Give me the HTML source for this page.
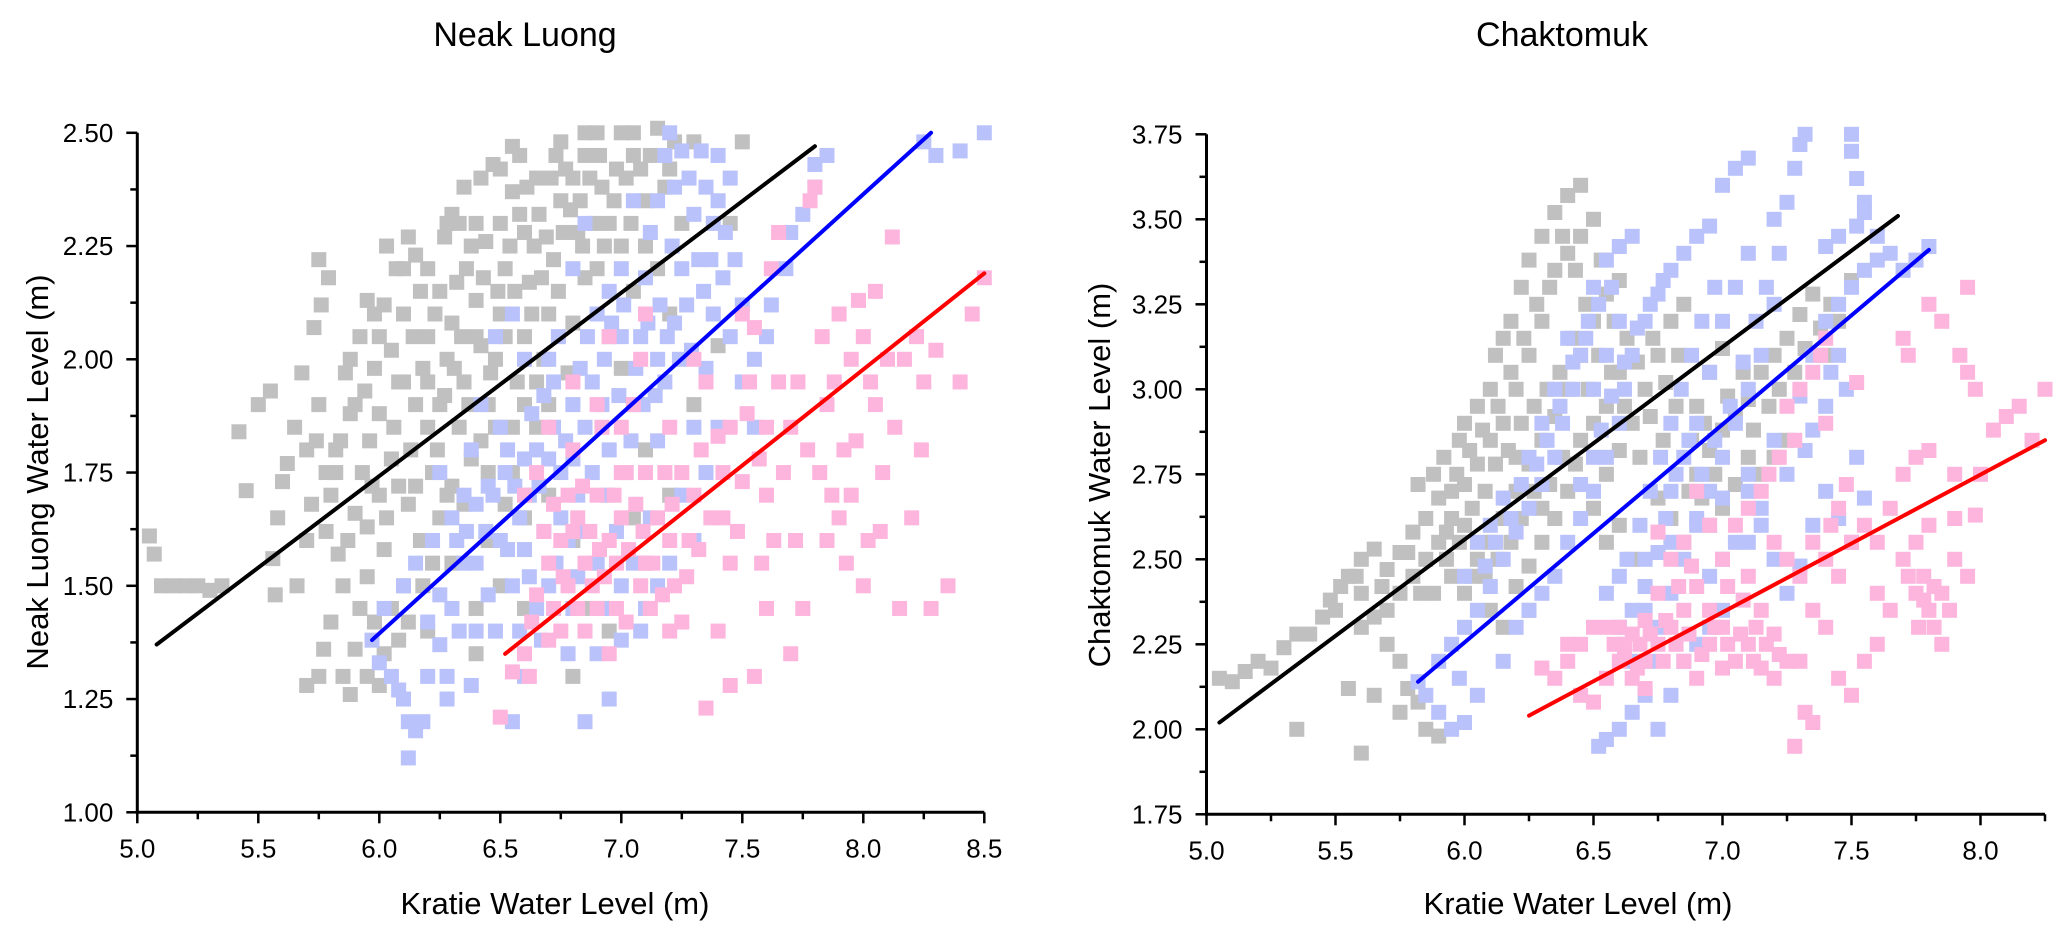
<!DOCTYPE html>
<html><head><meta charset="utf-8">
<style>
html,body{margin:0;padding:0;background:#fff;}
svg{display:block;font-family:"Liberation Sans",Arial,sans-serif;}
</style></head>
<body>
<svg id="fig" width="2067" height="938" viewBox="0 0 2067 938" xmlns="http://www.w3.org/2000/svg">
<rect width="2067" height="938" fill="#fff"/>
<g id="left"></g>
<g id="right"></g>
</svg>
<script>
// ---------- Data: Neak Luong ----------
const nlGray=[[5.05,1.61],[5.07,1.57],[5.1,1.5],[5.15,1.5],[5.2,1.5],[5.25,1.5],[5.3,1.49],[5.35,1.5],[5.45,1.71],[5.42,1.84],[5.5,1.9],[5.55,1.93],[5.6,1.73],[5.62,1.77],[5.58,1.65],[5.56,1.56],[5.57,1.48],[5.65,1.85],[5.7,1.8],[5.75,1.9],[5.68,1.97],[5.73,2.07],[5.76,2.12],[5.79,2.18],[5.75,2.22],[5.8,1.70],[5.7,1.6],[5.72,1.68],[5.78,1.62],[5.83,1.57],[5.66,1.5],[5.7,1.28],[5.75,1.3],[5.77,1.36],[5.8,1.42],[5.85,1.3],[5.88,1.26],[5.9,1.36],[5.92,1.45],[5.95,1.52],[5.85,1.5],[5.87,1.6],[5.9,1.66],[5.93,1.75],[5.96,1.82],[5.9,1.9],[5.86,1.97],[5.92,2.05],[5.98,2.1],[5.95,1.63],[6.0,1.7],[6.02,1.58],[6.05,1.78],[6.0,1.88],[6.08,1.95],[6.05,2.02],[6.1,2.1],[6.07,2.2],[6.12,2.27],[6.03,2.25],[5.95,2.13],[6.15,2.23],[6.15,1.9],[6.18,1.98],[6.2,2.05],[6.2,1.85],[6.22,1.75],[6.12,1.68],[6.17,1.6],[6.1,1.5],[6.05,1.45],[6.02,1.35],[6.08,1.38],[6.25,1.9],[6.28,2.0],[6.3,2.08],[6.32,2.17],[6.27,2.27],[6.3,2.32],[6.35,2.38],[6.38,2.25],[6.4,2.13],[6.42,2.03],[6.35,1.95],[6.33,1.85],[6.38,1.78],[6.3,1.72],[6.25,1.65],[6.45,1.9],[6.48,2.0],[6.5,2.1],[6.52,2.2],[6.5,2.3],[6.55,2.37],[6.58,2.45],[6.47,2.43],[6.6,2.28],[6.62,2.17],[6.6,2.05],[6.57,1.95],[6.65,1.85],[6.68,2.0],[6.7,2.1],[6.72,2.22],[6.75,2.35],[6.73,2.45],[6.8,2.4],[6.82,2.28],[6.85,2.18],[6.8,2.08],[6.78,1.97],[6.9,2.5],[6.92,2.38],[6.95,2.3],[6.98,2.42],[7.0,2.5],[7.05,2.45],[7.1,2.35],[7.15,2.51],[7.2,2.42],[7.0,2.25],[7.05,2.15],[7.1,2.25],[6.9,2.2],[6.95,2.05],[7.0,1.98],[7.15,2.2],[7.25,2.3],[7.3,2.48],[7.5,2.48],[7.2,2.1],[6.55,1.75],[6.6,1.65],[6.7,1.7],[6.45,1.6],[6.5,1.5],[6.4,1.45],[6.6,1.45],[6.8,1.6],[6.88,1.45],[6.9,1.55],[7.05,1.65],[7.1,1.55],[7.1,1.8],[7.3,1.9],[7.35,1.95],[6.3,1.55],[6.2,1.4],[6.4,1.35],[6.35,1.68],[6.8,1.3],[6.95,1.4],[7.2,1.7],[7.4,2.03],[7.45,2.3],[6.25,2.15],[6.4,2.3],[6.65,2.4],[6.85,2.45],[6.1,1.95],[5.98,1.98],[6.02,2.12],
[5.82,1.75],[5.84,1.82],[5.88,1.88],[5.94,1.93],[5.97,1.72],[6.03,1.65],[6.06,1.85],[6.08,1.72],[6.13,1.8],[6.14,2.05],[6.17,2.15],[6.2,1.95],[6.23,2.1],[6.24,1.8],[6.27,1.92],[6.28,1.7],[6.31,1.98],[6.34,2.05],[6.36,2.2],[6.37,1.9],[6.4,2.05],[6.43,2.18],[6.44,2.26],[6.46,1.97],[6.49,2.15],[6.52,2.05],[6.54,2.25],[6.56,2.15],[6.58,2.32],[6.61,2.38],[6.63,2.1],[6.64,2.25],[6.66,2.32],[6.67,2.18],[6.69,2.27],[6.71,2.4],[6.74,2.15],[6.76,2.28],[6.77,2.42],[6.79,2.33],[6.83,2.35],[6.84,2.25],[6.87,2.4],[6.89,2.3],[6.91,2.45],[6.93,2.25],[6.97,2.35],[7.02,2.4],[7.04,2.3],[7.08,2.42],[7.12,2.45],[7.18,2.38],[7.22,2.48],[6.45,1.75],[6.48,1.85],[6.52,1.68],[6.6,1.9],[6.65,1.95],[6.7,1.9],[6.55,1.85],[6.42,1.82],[6.15,1.72],[6.18,1.5],[6.22,1.55],[5.98,1.42],[6.0,1.28],[6.12,1.42],[5.95,1.3],[5.82,1.8],[5.78,1.75],[5.74,1.82],[5.88,2.0],[6.0,2.05],[6.1,2.2],[6.2,2.2],[6.28,2.3],[6.33,2.3],[6.42,2.4],[6.5,2.42],[6.55,2.47],[6.75,2.48],[6.85,2.5],[7.05,2.5]];
const nlBlue=[[5.97,1.38],[6.0,1.33],[6.05,1.3],[6.02,1.45],[6.08,1.27],[6.1,1.25],[6.12,1.2],[6.15,1.18],[6.12,1.12],[6.18,1.2],[6.1,1.5],[6.15,1.55],[6.2,1.42],[6.25,1.37],[6.28,1.3],[6.3,1.45],[6.22,1.6],[6.3,1.65],[6.35,1.55],[6.4,1.4],[6.45,1.48],[6.45,1.72],[6.38,1.8],[6.42,1.9],[6.5,1.85],[6.5,1.6],[6.55,1.5],[6.58,1.4],[6.6,1.58],[6.62,1.7],[6.65,1.8],[6.68,1.92],[6.7,2.0],[6.72,1.85],[6.75,1.75],[6.78,1.6],[6.8,1.45],[6.82,1.7],[6.85,1.85],[6.88,1.95],[6.9,2.1],[6.93,2.0],[6.95,1.8],[6.98,1.62],[7.0,1.5],[7.02,1.75],[7.05,1.9],[7.08,2.05],[7.1,2.18],[7.12,2.28],[7.15,2.35],[7.18,2.45],[7.2,2.5],[7.22,2.38],[7.25,2.46],[7.28,2.4],[7.3,2.32],[7.33,2.46],[7.35,2.38],[7.38,2.3],[7.4,2.45],[7.45,2.4],[7.25,2.2],[7.22,2.08],[7.18,1.95],[7.15,1.82],[7.12,1.65],[7.25,1.7],[7.3,1.85],[7.35,1.98],[7.38,2.1],[7.42,2.18],[7.45,2.05],[7.5,1.95],[7.5,2.12],[7.55,2.0],[7.6,2.05],[7.62,2.12],[7.3,1.6],[7.2,1.55],[7.1,1.45],[6.9,1.35],[6.95,1.25],[6.85,1.2],[6.7,1.5],[6.6,1.3],[6.55,1.2],[7.7,2.28],[7.75,2.32],[7.8,2.38],[7.68,2.2],[7.85,2.45],[8.25,2.48],[8.4,2.46],[8.5,2.5],[8.3,2.45],[7.8,2.43],[6.25,1.75],[6.35,1.7],[6.48,2.05],[6.55,2.1],[6.6,2.0],[6.8,2.2],[6.85,2.3],[7.0,2.2],[7.05,2.35],[6.95,2.15],[6.75,1.65],[6.65,1.45],[6.4,1.55],[6.58,1.65],[7.0,2.05],[7.15,2.0],[7.4,1.85],[7.35,1.75],[7.55,1.85],[6.9,1.55],[7.08,1.4],[6.52,1.75],[6.7,1.78],[6.8,1.9],
[6.32,1.6],[6.36,1.62],[6.4,1.68],[6.44,1.62],[6.47,1.7],[6.53,1.8],[6.56,1.72],[6.6,1.78],[6.63,1.88],[6.66,1.72],[6.68,1.62],[6.72,1.95],[6.74,2.05],[6.77,1.82],[6.8,1.78],[6.83,1.98],[6.86,2.05],[6.88,1.75],[6.92,1.9],[6.94,1.7],[6.96,2.08],[6.99,1.92],[7.01,2.12],[7.04,1.82],[7.06,1.98],[7.09,1.9],[7.11,2.08],[7.14,1.92],[7.16,2.12],[7.19,2.05],[7.21,2.25],[7.24,2.0],[7.27,2.12],[7.29,2.02],[7.32,2.22],[7.34,2.15],[7.37,2.22],[7.4,2.35],[7.43,2.28],[7.47,2.22],[6.25,1.48],[6.33,1.4],[6.48,1.4],[6.53,1.58],[6.62,1.52],[6.67,1.38],[6.73,1.55],[6.78,1.35],[6.82,1.52],[6.86,1.62],[6.92,1.45],[7.0,1.38],[7.05,1.55],[7.15,1.5],[6.28,1.25],[6.38,1.28],[6.2,1.3]];
const nlPink=[[6.5,1.21],[6.55,1.31],[6.6,1.35],[6.62,1.3],[6.65,1.48],[6.7,1.55],[6.72,1.45],[6.75,1.6],[6.78,1.7],[6.8,1.8],[6.82,1.65],[6.85,1.55],[6.88,1.5],[6.9,1.7],[6.92,1.85],[6.95,1.6],[6.98,1.45],[7.0,1.65],[7.02,1.75],[7.05,1.9],[7.08,2.0],[7.1,1.55],[7.12,1.45],[7.15,1.65],[7.18,1.75],[7.2,1.85],[7.22,1.5],[7.25,1.42],[7.28,1.6],[7.3,1.7],[7.33,1.8],[7.35,1.95],[7.4,1.83],[7.42,1.65],[7.45,1.55],[7.5,1.73],[7.52,1.88],[7.55,2.07],[7.58,1.55],[7.6,1.7],[7.62,2.2],[7.65,1.95],[7.7,1.85],[7.72,1.6],[7.75,1.45],[7.78,2.35],[7.8,2.38],[7.82,1.75],[7.85,1.6],[7.88,1.95],[7.9,2.1],[7.92,1.8],[7.95,1.7],[7.98,2.13],[8.0,2.05],[8.02,1.6],[8.05,1.9],[8.08,1.75],[8.1,2.0],[8.12,2.27],[8.15,1.45],[8.2,1.65],[8.22,2.05],[8.25,1.95],[8.28,1.45],[8.3,2.02],[8.35,1.5],[8.4,1.95],[8.45,2.1],[8.5,2.18],[8.0,1.5],[7.9,1.65],[7.7,1.35],[7.55,1.3],[7.35,1.23],[7.45,1.28],[7.2,1.4],[6.85,1.4],[6.75,1.4],[6.95,1.35],[7.0,1.75],[6.9,1.9],[6.8,1.95],[6.7,1.85],[6.65,1.75],[6.6,1.7],[6.95,2.05],[7.1,2.1],[7.3,2.0],[7.5,2.1],[7.65,2.28],[7.1,1.75],[7.2,1.6],[7.4,1.4],[7.6,1.45],[7.85,1.9],[8.05,2.15],[7.95,2.0],[7.0,1.85],[6.78,1.5],[7.45,1.85],[7.25,1.75],[7.6,1.85],
[6.68,1.62],[6.72,1.68],[6.76,1.52],[6.8,1.62],[6.84,1.72],[6.87,1.62],[6.91,1.58],[6.93,1.52],[6.97,1.7],[7.03,1.58],[7.06,1.68],[7.09,1.62],[7.13,1.55],[7.17,1.48],[7.21,1.68],[7.27,1.52],[7.32,1.58],[7.37,1.65],[7.42,1.75],[7.48,1.62],[7.53,1.95],[7.57,1.78],[7.63,1.6],[7.67,1.75],[7.73,1.95],[7.77,1.8],[7.83,2.05],[7.87,1.7],[7.93,1.55],[7.97,1.82],[8.03,1.95],[8.07,1.62],[8.13,1.85],[8.17,2.0],[8.24,1.8],[6.63,1.42],[6.7,1.38],[6.82,1.45],[6.9,1.45],[7.02,1.42],[7.08,1.5],[6.98,1.55]];
const nlFitSlope=[0.4044,0.4848,0.4242];
const nlFitIntercept=[-0.684,-1.514,-1.416];
const nlFitRange=[[5.08,7.8],[5.97,8.28],[6.52,8.5]];
const nlXTicks=["5.0","5.5","6.0","6.5","7.0","7.5","8.0","8.5"];
const nlYTicks=["1.00","1.25","1.50","1.75","2.00","2.25","2.50"];

// ---------- Data: Chaktomuk ----------
const ckGray=[[5.05,2.15],[5.1,2.14],[5.15,2.17],[5.2,2.2],[5.25,2.18],[5.3,2.24],[5.35,2.28],[5.4,2.28],[5.45,2.33],[5.48,2.38],[5.52,2.42],[5.55,2.45],[5.6,2.5],[5.65,2.53],[5.6,2.4],[5.7,2.47],[5.75,2.52],[5.8,2.58],[5.85,2.62],[5.82,2.72],[5.88,2.75],[5.92,2.8],[5.95,2.7],[5.98,2.85],[6.0,2.9],[6.05,2.95],[6.1,3.0],[6.12,3.1],[6.15,3.15],[6.18,3.2],[6.22,3.3],[6.25,3.38],[6.3,3.45],[6.35,3.52],[6.4,3.57],[6.45,3.6],[6.35,3.35],[6.4,3.4],[6.45,3.45],[6.5,3.5],[6.3,3.2],[6.2,3.0],[6.25,3.1],[6.15,2.9],[6.1,2.85],[6.05,2.78],[6.0,2.72],[5.95,2.62],[5.9,2.55],[5.85,2.5],[5.8,2.45],[5.75,2.4],[5.7,2.35],[5.65,2.33],[5.6,2.3],[5.7,2.25],[5.75,2.2],[5.78,2.12],[5.82,2.08],[5.75,2.05],[5.65,2.1],[5.55,2.12],[5.35,2.0],[5.6,1.93],[5.85,2.0],[5.9,1.98],[6.0,2.4],[6.05,2.5],[6.1,2.55],[6.15,2.62],[6.2,2.7],[6.25,2.78],[6.3,2.85],[6.35,2.92],[6.4,3.0],[6.45,3.1],[6.5,3.2],[6.55,3.28],[6.6,3.32],[6.45,2.85],[6.5,2.9],[6.55,2.95],[6.6,3.05],[6.4,2.7],[6.35,2.62],[6.3,2.55],[6.25,2.48],[6.2,2.42],[6.1,2.35],[6.55,2.75],[6.6,2.82],[6.65,2.9],[6.7,3.0],[6.75,3.1],[6.8,3.2],[6.85,3.25],[6.9,2.95],[6.95,3.05],[7.0,3.12],[6.9,2.75],[6.95,2.82],[7.0,2.88],[7.05,2.92],[7.1,2.97],[7.15,3.05],[7.2,3.1],[7.25,3.15],[7.3,3.22],[7.35,3.28],[7.1,2.8],[7.05,2.72],[7.0,2.65],[6.95,2.6],[6.85,2.55],[6.8,2.62],[6.75,2.68],[6.65,2.5],[6.6,2.6],[6.55,2.55],[7.15,2.75],[7.2,2.8],[7.25,2.85],[7.4,3.1],[7.45,3.2],[7.5,3.32],[6.0,2.6],[6.2,2.8],[5.95,2.45],[6.15,2.3],[6.25,2.35],[6.3,2.65],[6.5,2.65],
[5.9,2.68],[5.93,2.58],[5.97,2.75],[6.02,2.82],[6.03,2.65],[6.07,2.88],[6.08,2.7],[6.12,2.78],[6.13,2.95],[6.17,2.82],[6.18,3.05],[6.22,2.9],[6.23,3.15],[6.27,2.95],[6.28,3.25],[6.32,3.0],[6.33,3.3],[6.37,3.05],[6.38,3.45],[6.42,3.15],[6.43,3.35],[6.47,3.25],[6.48,3.0],[6.52,3.1],[6.53,3.38],[6.57,3.05],[6.58,3.2],[6.62,2.95],[6.63,3.15],[6.67,3.08],[6.68,2.8],[6.72,2.92],[6.73,3.15],[6.77,2.85],[6.78,3.02],[6.82,2.95],[6.83,3.1],[6.87,2.7],[6.88,2.85],[6.92,2.68],[6.93,2.9],[6.97,2.75],[7.02,2.98],[7.08,3.05],[7.12,2.88],[7.18,2.95],[7.22,3.0],[7.28,3.05],[7.32,3.12],[7.38,3.18],[7.42,3.25],[5.88,2.4],[5.93,2.5],[5.98,2.55],[6.03,2.45],[6.08,2.45],[6.13,2.5],[6.18,2.55],[6.22,2.62],[6.27,2.7],[6.33,2.72],[6.38,2.8],[6.43,2.78],[5.5,2.35],[5.58,2.45],[5.68,2.42],[5.78,2.52],[5.83,2.4]];
const ckBlue=[[5.82,2.14],[5.85,2.1],[5.9,2.05],[5.95,2.0],[6.0,2.02],[6.05,2.1],[5.9,2.2],[5.95,2.25],[6.0,2.3],[6.05,2.35],[6.1,2.42],[6.15,2.5],[6.2,2.58],[6.25,2.65],[6.3,2.72],[6.35,2.8],[6.38,2.9],[6.42,3.0],[6.45,3.1],[6.48,3.2],[6.5,3.3],[6.55,3.38],[6.6,3.42],[6.65,3.45],[6.2,2.3],[6.25,2.35],[6.3,2.4],[6.35,2.45],[6.4,2.55],[6.45,2.62],[6.5,2.7],[6.55,2.8],[6.6,2.9],[6.62,3.0],[6.65,3.1],[6.7,3.2],[6.75,3.28],[6.8,3.35],[6.85,3.4],[6.9,3.45],[6.95,3.48],[7.0,3.6],[7.05,3.65],[7.1,3.68],[6.52,1.95],[6.55,1.97],[6.6,2.0],[6.65,2.05],[6.7,2.1],[6.72,2.2],[6.75,2.3],[6.8,2.4],[6.85,2.5],[6.9,2.6],[6.95,2.7],[7.0,2.8],[7.05,2.9],[7.1,3.0],[7.15,3.1],[7.2,3.25],[7.22,3.4],[7.25,3.55],[7.28,3.65],[7.32,3.75],[7.3,3.72],[6.55,2.4],[6.6,2.45],[6.7,2.5],[6.8,2.55],[6.9,2.62],[7.0,2.68],[7.1,2.75],[7.2,2.85],[7.3,2.98],[7.35,3.1],[7.4,3.2],[7.45,3.25],[7.5,3.3],[7.55,3.35],[7.6,3.38],[7.7,3.35],[7.8,3.42],[7.1,2.7],[7.15,2.6],[7.2,2.5],[7.25,2.4],[7.3,2.48],[7.35,2.6],[7.4,2.7],[7.45,2.62],[7.5,2.55],[7.55,2.68],[7.52,2.8],[7.48,3.0],[7.45,3.1],[7.5,3.75],[7.5,3.7],[7.52,3.62],[7.55,3.55],[7.52,3.48],[7.45,3.45],[7.4,3.42],[7.55,3.52],[6.9,2.25],[6.95,2.3],[7.0,2.35],[6.85,2.2],[6.65,2.2],[6.6,2.3],[6.7,2.35],[6.0,2.45],[6.05,2.55],[6.1,2.6],[6.15,2.68],[6.25,2.8],[6.3,2.9],[6.35,3.0],[6.4,3.15],[6.5,3.0],[6.55,3.1],[6.6,3.2],[5.98,2.15],[6.15,2.2],[6.8,2.7],[6.85,2.8],[6.9,2.9],[6.95,3.05],[7.0,3.2],[7.05,3.3],[7.1,3.4],[7.2,3.5],[6.75,2.0],[6.8,2.1],[7.35,2.88],[7.4,2.95],[7.1,2.55],[7.0,2.5],
[6.08,2.48],[6.12,2.55],[6.18,2.62],[6.22,2.72],[6.28,2.78],[6.32,2.85],[6.37,2.95],[6.42,3.08],[6.47,3.15],[6.52,3.25],[6.57,3.3],[6.45,2.72],[6.5,2.8],[6.53,2.88],[6.57,2.98],[6.62,3.08],[6.67,3.18],[6.72,3.25],[6.77,3.32],[6.63,2.5],[6.68,2.6],[6.72,2.7],[6.76,2.8],[6.8,2.9],[6.84,3.0],[6.88,3.1],[6.92,3.2],[6.97,3.3],[6.65,2.35],[6.7,2.42],[6.75,2.52],[6.78,2.62],[6.82,2.75],[6.87,2.85],[6.92,2.75],[6.97,2.85],[7.03,2.95],[7.08,3.08],[7.13,3.2],[7.17,3.3],[6.95,2.45],[7.05,2.55],[7.15,2.65],[7.25,2.75],[7.32,2.82],[7.42,3.05],[7.6,3.45],[7.65,3.4],[7.75,3.38]];
const ckPink=[[6.3,2.18],[6.35,2.15],[6.4,2.2],[6.45,2.25],[6.5,2.3],[6.55,2.3],[6.6,2.3],[6.62,2.22],[6.65,2.15],[6.7,2.2],[6.75,2.25],[6.8,2.3],[6.85,2.2],[6.9,2.15],[6.95,2.25],[7.0,2.3],[6.6,2.2],[6.65,2.28],[6.7,2.32],[6.75,2.4],[6.8,2.5],[6.85,2.55],[6.9,2.42],[6.95,2.35],[7.0,2.18],[7.05,2.2],[7.1,2.25],[7.15,2.18],[7.2,2.15],[7.25,2.2],[7.28,1.95],[7.32,2.05],[7.35,2.02],[7.2,2.28],[7.15,2.35],[7.1,2.45],[7.05,2.6],[7.1,2.65],[7.15,2.7],[7.2,2.55],[7.25,2.5],[7.3,2.45],[7.35,2.55],[7.4,2.5],[7.45,2.45],[7.5,2.55],[7.55,2.6],[7.6,2.4],[7.65,2.35],[7.7,2.5],[7.72,2.45],[7.75,2.4],[7.78,2.38],[7.8,2.35],[7.82,2.3],[7.85,2.25],[7.75,2.55],[7.8,2.6],[7.65,2.65],[7.7,2.75],[7.75,2.8],[7.8,2.82],[7.9,2.75],[7.25,2.95],[7.3,3.0],[7.35,3.05],[7.4,2.9],[7.28,2.85],[7.22,2.8],[7.18,2.75],[7.52,3.02],[7.38,3.1],[7.4,3.15],[7.7,3.15],[7.72,3.1],[7.8,3.25],[7.85,3.2],[7.95,3.3],[7.92,3.1],[7.98,3.0],[7.95,3.05],[8.05,2.88],[8.1,2.92],[8.15,2.95],[8.25,3.0],[8.2,2.85],[8.0,2.75],[7.9,2.5],[7.95,2.45],[7.98,2.63],[7.6,2.25],[7.55,2.2],[7.5,2.1],[7.45,2.15],[7.0,2.5],[6.95,2.6],[6.9,2.7],[6.75,2.58],[6.5,2.08],[6.55,2.15],[6.45,2.1],[6.4,2.25],[6.7,2.12],[6.85,2.35],[7.3,2.2],[7.4,2.3],[7.35,2.35],[7.6,2.55],[7.85,2.4],
[6.62,2.25],[6.67,2.18],[6.72,2.28],[6.77,2.2],[6.82,2.25],[6.87,2.28],[6.92,2.22],[6.97,2.3],[7.02,2.25],[7.07,2.28],[7.12,2.2],[7.17,2.25],[7.22,2.22],[6.58,2.25],[6.68,2.25],[6.78,2.32],[6.83,2.42],[6.88,2.48],[7.02,2.42],[7.08,2.38],[7.13,2.3],[7.78,2.45],[7.82,2.42],[7.88,2.35],[7.76,2.3],[7.9,2.62],[7.45,2.65],[7.48,2.72],[7.42,2.6]];
const ckFitSlope=[0.5665,0.6414,0.405];
const ckFitIntercept=[-0.841,-1.593,-0.491];
const ckFitRange=[[5.05,7.68],[5.82,7.8],[6.25,8.25]];
const ckXTicks=["5.0","5.5","6.0","6.5","7.0","7.5","8.0"];
const ckYTicks=["1.75","2.00","2.25","2.50","2.75","3.00","3.25","3.50","3.75"];

const NS="http://www.w3.org/2000/svg";
function mk(tag,attrs,parent){const e=document.createElementNS(NS,tag);for(const k in attrs)e.setAttribute(k,attrs[k]);parent.appendChild(e);return e;}

function drawPanel(g,cfg){
  const sx=v=>cfg.x0+(v-cfg.xmin)*cfg.xs;
  const sy=v=>cfg.y0-(v-cfg.ymin)*cfg.ys;
  const xEnd=sx(cfg.xmax), yTop=sy(cfg.ymax);
  const M=15;
  const series=[[cfg.gray,"#c0c0c0","gray-point"],[cfg.blue,"#b9c2fb","blue-point"],[cfg.pink,"#fdb5dd","pink-point"]];
  series.forEach(s=>{
    const sg=mk("g",{},g);
    
    
    s[0].forEach(p=>{
      const r=mk("rect",{x:sx(p[0])-M/2,y:sy(p[1])-M/2,width:M,height:M,fill:s[1]},sg);
      
      
    });
  });
  const cols=["#000000","#0000ff","#ff0000"], names=["gray-fit-line","blue-fit-line","pink-fit-line"];
  cfg.slope.forEach((m,i)=>{
    const a=cfg.range[i][0], b=cfg.range[i][1];
    const l=mk("line",{x1:sx(a),y1:sy(m*a+cfg.icpt[i]),x2:sx(b),y2:sy(m*b+cfg.icpt[i]),stroke:cols[i],"stroke-width":4,"stroke-linecap":"round"},g);
    
    
  });
  const ax=mk("line",{x1:cfg.x0,y1:cfg.y0+1.5,x2:cfg.x0,y2:yTop,stroke:"#000","stroke-width":3},g);
  
  
  const bx=mk("line",{x1:cfg.x0-1.5,y1:cfg.y0,x2:xEnd,y2:cfg.y0,stroke:"#000","stroke-width":3},g);
  
  
  for(let v=cfg.xmin;v<=cfg.xmax+1e-6;v+=cfg.xstep/2){
    const major=Math.abs((v-cfg.xmin)/cfg.xstep-Math.round((v-cfg.xmin)/cfg.xstep))<1e-6;
    mk("line",{x1:sx(v),y1:cfg.y0,x2:sx(v),y2:cfg.y0+(major?11:7),stroke:"#000","stroke-width":2.5},g);
  }
  cfg.xt.forEach(t=>{
    const e=mk("text",{x:sx(parseFloat(t)),y:cfg.y0+45,"font-size":26,"text-anchor":"middle",fill:"#000"},g);
    e.textContent=t;
    
    
  });
  for(let v=cfg.ymin;v<=cfg.ymax+1e-6;v+=cfg.ystep/2){
    const major=Math.abs((v-cfg.ymin)/cfg.ystep-Math.round((v-cfg.ymin)/cfg.ystep))<1e-6;
    mk("line",{x1:cfg.x0,y1:sy(v),x2:cfg.x0-(major?11:7),y2:sy(v),stroke:"#000","stroke-width":2.5},g);
  }
  cfg.yt.forEach(t=>{
    const e=mk("text",{x:cfg.x0-24,y:sy(parseFloat(t))+9,"font-size":26,"text-anchor":"end",fill:"#000"},g);
    e.textContent=t;
    
    
  });
  const tt=mk("text",{x:cfg.titleX,y:46,"font-size":34,"text-anchor":"middle",fill:"#000"},g);
  tt.textContent=cfg.title;
  
  
  const xt=mk("text",{x:cfg.xTitleX,y:914,"font-size":31,"text-anchor":"middle",fill:"#000"},g);
  xt.textContent=cfg.xTitle;
  
  
  const yt=mk("text",{x:0,y:0,"font-size":31,"text-anchor":"middle",fill:"#000",transform:`translate(${cfg.yTitleX},${cfg.yTitleY}) rotate(-90)`},g);
  yt.textContent=cfg.yTitle;
  
  
}

drawPanel(document.getElementById("left"),{x0:137.3,xmin:5,xmax:8.5,xs:242,xstep:0.5,y0:812.3,ymin:1,ymax:2.5,ys:453,ystep:0.25,
  gray:nlGray,blue:nlBlue,pink:nlPink,slope:nlFitSlope,icpt:nlFitIntercept,range:nlFitRange,xt:nlXTicks,yt:nlYTicks,
  title:"Neak Luong",titleX:525,xTitle:"Kratie Water Level (m)",xTitleX:555,yTitle:"Neak Luong Water Level (m)",yTitleX:48,yTitleY:472});
drawPanel(document.getElementById("right"),{x0:1206.5,xmin:5,xmax:8.25,xs:258,xstep:0.5,y0:814.3,ymin:1.75,ymax:3.75,ys:340,ystep:0.25,
  gray:ckGray,blue:ckBlue,pink:ckPink,slope:ckFitSlope,icpt:ckFitIntercept,range:ckFitRange,xt:ckXTicks,yt:ckYTicks,
  title:"Chaktomuk",titleX:1562,xTitle:"Kratie Water Level (m)",xTitleX:1578,yTitle:"Chaktomuk Water Level (m)",yTitleX:1110,yTitleY:475});
</script>
</body></html>
